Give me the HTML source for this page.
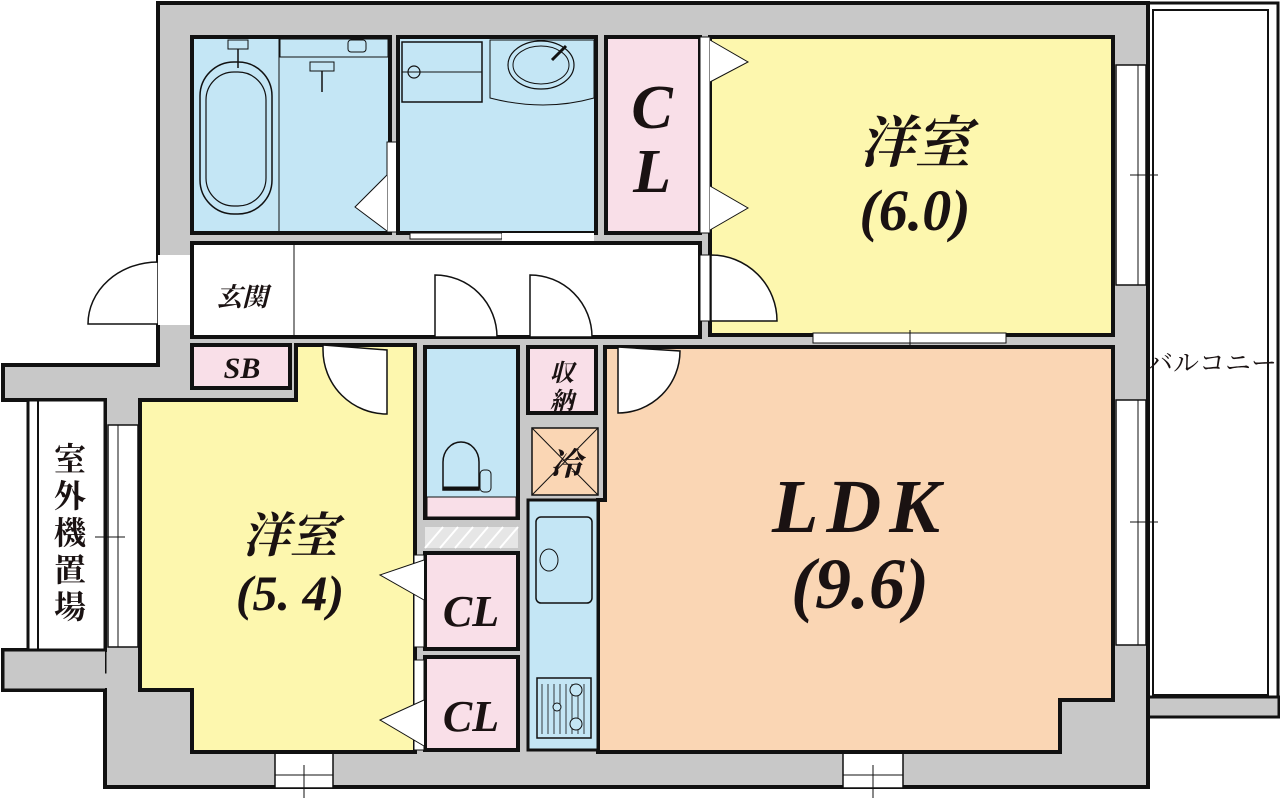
<!DOCTYPE html>
<html><head><meta charset="utf-8"><style>
html,body{margin:0;padding:0;background:#fff;}
svg{display:block}
.t{font-family:"Liberation Serif","Noto Serif CJK JP",serif;font-style:italic;font-weight:bold;fill:#1a1212;}
</style></head><body>
<svg width="1280" height="798" viewBox="0 0 1280 798" xmlns="http://www.w3.org/2000/svg">
<rect x="1148" y="3" width="130" height="697" fill="#fff" stroke="#111" stroke-width="3"/>
<rect x="1153" y="10" width="115" height="685" fill="#fff" stroke="#111" stroke-width="2"/>
<rect x="1113" y="697" width="166" height="20" fill="#c8c8c8" stroke="#111" stroke-width="3"/>
<path d="M158,3 H1148 V717 H1148 V787 H105 V690 H3 V650 H105 V400 H3 V365 H158 Z" fill="#c8c8c8" stroke="#111" stroke-width="4"/>
<rect x="28" y="400" width="77" height="272" fill="#fff" stroke="#111" stroke-width="3"/>
<line x1="38" y1="400" x2="38" y2="672" stroke="#111" stroke-width="2"/>
<rect x="3" y="650" width="102" height="40" fill="#c8c8c8"/>
<line x1="3" y1="650" x2="3" y2="690" stroke="#111" stroke-width="3"/>
<line x1="3" y1="650" x2="105" y2="650" stroke="#111" stroke-width="3"/>
<line x1="3" y1="690" x2="105" y2="690" stroke="#111" stroke-width="3"/>
<rect x="1116" y="65" width="30" height="220" fill="#fff" stroke="#111" stroke-width="1.5"/>
<line x1="1138" y1="65" x2="1138" y2="285" stroke="#111" stroke-width="1"/>
<line x1="1130" y1="175" x2="1158" y2="175" stroke="#111" stroke-width="1"/>
<rect x="275" y="752" width="58" height="36" fill="#fff" stroke="#111" stroke-width="1.5"/>
<line x1="275" y1="775" x2="333" y2="775" stroke="#111" stroke-width="1"/>
<line x1="304" y1="765" x2="304" y2="798" stroke="#111" stroke-width="1"/>
<rect x="843" y="752" width="60" height="36" fill="#fff" stroke="#111" stroke-width="1.5"/>
<line x1="843" y1="775" x2="903" y2="775" stroke="#111" stroke-width="1"/>
<line x1="873" y1="765" x2="873" y2="798" stroke="#111" stroke-width="1"/>
<path d="M158,262 A70,62 0 0 0 88,324 H158 Z" fill="#fff" stroke="#111" stroke-width="1.5"/>
<rect x="158" y="255" width="34" height="70" fill="#fff"/>
<rect x="192" y="37" width="198" height="196" fill="#c4e6f5" stroke="#111" stroke-width="4"/>
<line x1="279" y1="39" x2="279" y2="231" stroke="#111" stroke-width="1"/>
<rect x="280" y="39" width="108" height="18" fill="#c4e6f5" stroke="#111" stroke-width="1"/>
<rect x="200" y="62" width="72" height="152" rx="34" fill="none" stroke="#111" stroke-width="1.5"/>
<rect x="206" y="72" width="60" height="134" rx="28" fill="none" stroke="#111" stroke-width="1.2"/>
<rect x="228" y="40" width="20" height="9" fill="none" stroke="#111" stroke-width="1"/>
<line x1="238" y1="49" x2="238" y2="68" stroke="#111" stroke-width="1.5"/>
<rect x="310" y="62" width="24" height="9" fill="none" stroke="#111" stroke-width="1"/>
<line x1="322" y1="71" x2="322" y2="92" stroke="#111" stroke-width="1.5"/>
<rect x="348" y="40" width="18" height="12" rx="3" fill="none" stroke="#111" stroke-width="1"/>
<rect x="387" y="142" width="10" height="90" fill="#fff" stroke="#111" stroke-width="1"/>
<path d="M387,175 L355,207 L387,231" fill="#fff" stroke="#111" stroke-width="1"/>
<rect x="398" y="37" width="198" height="196" fill="#c4e6f5" stroke="#111" stroke-width="4"/>
<rect x="402" y="42" width="80" height="60" fill="none" stroke="#111" stroke-width="1.5"/>
<line x1="402" y1="72" x2="482" y2="72" stroke="#111" stroke-width="1"/>
<circle cx="414" cy="72" r="6" fill="none" stroke="#111" stroke-width="1.2"/>
<path d="M490,40 H594 V98 Q544,112 490,98 Z" fill="none" stroke="#111" stroke-width="1"/>
<ellipse cx="541" cy="65" rx="33" ry="24" fill="none" stroke="#111" stroke-width="1.2"/>
<ellipse cx="541" cy="65" rx="28" ry="19" fill="none" stroke="#111" stroke-width="1"/>
<line x1="552" y1="60" x2="566" y2="46" stroke="#111" stroke-width="3"/>
<rect x="410" y="233" width="92" height="6" fill="#fff" stroke="#111" stroke-width="1"/>
<rect x="502" y="233" width="92" height="10" fill="#fff"/>
<rect x="606" y="37" width="94" height="196" fill="#f9dfe8" stroke="#111" stroke-width="4"/>
<rect x="710" y="37" width="403" height="298" fill="#fdf7ae" stroke="#111" stroke-width="4"/>
<rect x="700" y="37" width="10" height="196" fill="#fff" stroke="#111" stroke-width="1"/>
<path d="M710,40 L748,62 L710,82" fill="#fff" stroke="#111" stroke-width="1"/>
<path d="M710,186 L748,208 L710,230" fill="#fff" stroke="#111" stroke-width="1"/>
<path d="M711,255 A66,66 0 0 1 777,321 H711 Z" fill="#fff" stroke="#111" stroke-width="1.5"/>
<rect x="813" y="333" width="193" height="10" fill="#fff" stroke="#111" stroke-width="1"/>
<line x1="910" y1="330" x2="910" y2="350" stroke="#111" stroke-width="1"/>
<rect x="192" y="243" width="508" height="94" fill="#fff" stroke="#111" stroke-width="4"/>
<line x1="294" y1="245" x2="294" y2="335" stroke="#111" stroke-width="1"/>
<rect x="700" y="255" width="10" height="66" fill="#fff" stroke="#111" stroke-width="1"/>
<rect x="192" y="345" width="98" height="43" fill="#f9dfe8" stroke="#111" stroke-width="4"/>
<path d="M296,345 H415 V752 H192 V690 H140 V400 H296 Z" fill="#fdf7ae" stroke="#111" stroke-width="4"/>
<path d="M323,345 V350 A64,64 0 0 0 387,414 V350 Z" fill="#fff" stroke="#111" stroke-width="1.5"/>
<rect x="108" y="425" width="30" height="222" fill="#fff" stroke="#111" stroke-width="1.5"/>
<line x1="118" y1="425" x2="118" y2="647" stroke="#111" stroke-width="1"/>
<line x1="95" y1="537" x2="125" y2="537" stroke="#111" stroke-width="1"/>
<rect x="425" y="347" width="93" height="171" fill="#c4e6f5" stroke="#111" stroke-width="4"/>
<rect x="427" y="497" width="89" height="20" fill="#f9dfe8" stroke="#111" stroke-width="1"/>
<path d="M443,490 V462 A18,20 0 0 1 479,462 V490 Z" fill="none" stroke="#111" stroke-width="1.5"/>
<line x1="443" y1="488" x2="479" y2="488" stroke="#111" stroke-width="3"/>
<rect x="480" y="470" width="11" height="22" rx="4" fill="none" stroke="#111" stroke-width="1"/>
<path d="M435,337 V275 A62,62 0 0 1 497,337 Z" fill="#fff" stroke="#111" stroke-width="1.5"/>
<rect x="425" y="527" width="93" height="21" fill="#e6e6e6"/>
<path d="M425,548 l18,-21 M440,548 l18,-21 M455,548 l18,-21 M470,548 l18,-21 M485,548 l18,-21 M500,548 l18,-21" stroke="#fff" stroke-width="2"/>
<rect x="425" y="553" width="93" height="96" fill="#f9dfe8" stroke="#111" stroke-width="4"/>
<rect x="414" y="555" width="10" height="92" fill="#fff" stroke="#111" stroke-width="1"/>
<path d="M424,560 L380,575 L424,600" fill="#fff" stroke="#111" stroke-width="1"/>
<rect x="425" y="657" width="93" height="93" fill="#f9dfe8" stroke="#111" stroke-width="4"/>
<rect x="414" y="660" width="10" height="90" fill="#fff" stroke="#111" stroke-width="1"/>
<path d="M424,700 L380,720 L424,746" fill="#fff" stroke="#111" stroke-width="1"/>
<path d="M605,347 H1113 V700 H1060 V752 H598 V500 H605 Z" fill="#fad6b4" stroke="#111" stroke-width="4"/>
<path d="M618,347 V352 V413 A62,62 0 0 0 680,351 Z" fill="#fff" stroke="#111" stroke-width="1.5"/>
<rect x="1116" y="400" width="30" height="245" fill="#fff" stroke="#111" stroke-width="1.5"/>
<line x1="1138" y1="400" x2="1138" y2="645" stroke="#111" stroke-width="1"/>
<line x1="1130" y1="522" x2="1158" y2="522" stroke="#111" stroke-width="1"/>
<rect x="528" y="347" width="68" height="66" fill="#f9dfe8" stroke="#111" stroke-width="4"/>
<path d="M530,337 V275 A62,62 0 0 1 592,337 Z" fill="#fff" stroke="#111" stroke-width="1.5"/>
<rect x="532" y="428" width="66" height="67" fill="#fad6b4" stroke="#111" stroke-width="1.5"/>
<line x1="532" y1="428" x2="598" y2="495" stroke="#111" stroke-width="1"/>
<line x1="598" y1="428" x2="532" y2="495" stroke="#111" stroke-width="1"/>
<rect x="528" y="500" width="70" height="250" fill="#c4e6f5" stroke="#111" stroke-width="3"/>
<rect x="536" y="517" width="56" height="86" rx="5" fill="none" stroke="#111" stroke-width="1.5"/>
<ellipse cx="549" cy="560" rx="9" ry="11" fill="none" stroke="#111" stroke-width="1"/>
<rect x="537" y="678" width="54" height="60" fill="none" stroke="#111" stroke-width="1.5"/>
<path d="M542,684 V734 M548,684 V734 M554,684 V734 M560,684 V734 M566,684 V734 M572,684 V734 M578,684 V734 M584,684 V734" stroke="#111" stroke-width="0.8"/>
<circle cx="576" cy="690" r="6" fill="#c4e6f5" stroke="#111"/><circle cx="576" cy="724" r="6" fill="#c4e6f5" stroke="#111"/><circle cx="557" cy="707" r="4" fill="#c4e6f5" stroke="#111"/>
<text class="t" x="915" y="162" font-size="56" text-anchor="middle">洋室</text>
<text class="t" x="915" y="230" font-size="58" text-anchor="middle">(6.0)</text>
<text class="t" x="860" y="532" font-size="76" text-anchor="middle" letter-spacing="8">LDK</text>
<text class="t" x="860" y="608" font-size="72" text-anchor="middle">(9.6)</text>
<text class="t" x="290" y="552" font-size="48" text-anchor="middle">洋室</text>
<text class="t" x="290" y="610" font-size="50" text-anchor="middle">(5. 4)</text>
<text class="t" x="652" y="128" font-size="62" text-anchor="middle">C</text>
<text class="t" x="652" y="192" font-size="62" text-anchor="middle">L</text>
<text class="t" x="471" y="626" font-size="44" text-anchor="middle">CL</text>
<text class="t" x="471" y="731" font-size="44" text-anchor="middle">CL</text>
<text class="t" x="242" y="306" font-size="26" text-anchor="middle">玄関</text>
<text class="t" x="242" y="378" font-size="30" text-anchor="middle">SB</text>
<text class="t" x="562" y="381" font-size="24" text-anchor="middle">収</text>
<text class="t" x="562" y="409" font-size="24" text-anchor="middle">納</text>
<text class="t" x="566" y="475" font-size="32" text-anchor="middle">冷</text>
<g class="t" font-size="32" text-anchor="middle" style="font-style:normal">
<text x="70" y="470">室</text><text x="70" y="507">外</text><text x="70" y="544">機</text><text x="70" y="581">置</text><text x="70" y="618">場</text>
</g>
<text class="t" x="1212" y="372" font-size="26" text-anchor="middle" style="font-style:normal;font-weight:normal">バルコニー</text>
</svg>
</body></html>
